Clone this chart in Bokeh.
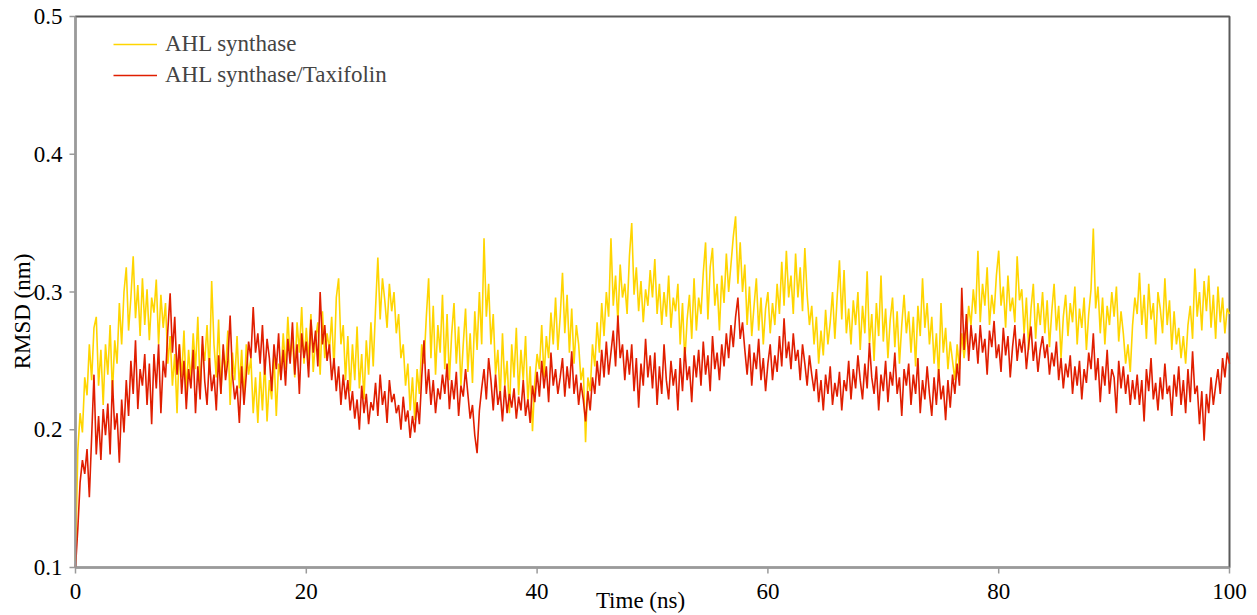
import math
from bokeh.plotting import figure
from bokeh.models import Range1d
from bokeh.core.properties import value
from bokeh.embed import file_html
from bokeh.resources import INLINE

ahl = [
    0.105, 0.185, 0.212, 0.198, 0.238, 0.225, 0.262, 0.236, 0.274, 0.282,
    0.232, 0.258, 0.218, 0.262, 0.240, 0.276, 0.226, 0.265, 0.248, 0.292,
    0.262, 0.300, 0.318, 0.272, 0.296, 0.326, 0.281, 0.305, 0.268, 0.310,
    0.276, 0.302, 0.265, 0.296, 0.285, 0.309, 0.262, 0.298, 0.274, 0.292,
    0.248, 0.268, 0.232, 0.255, 0.212, 0.262, 0.238, 0.272, 0.226, 0.258,
    0.235, 0.270, 0.244, 0.282, 0.228, 0.262, 0.250, 0.276, 0.240, 0.308,
    0.262, 0.238, 0.280, 0.226, 0.258, 0.242, 0.272, 0.218, 0.256, 0.236,
    0.268, 0.230, 0.258, 0.222, 0.262, 0.240, 0.252, 0.212, 0.238, 0.205,
    0.242, 0.214, 0.250, 0.206, 0.236, 0.222, 0.255, 0.210, 0.248, 0.238,
    0.270, 0.244, 0.282, 0.252, 0.266, 0.238, 0.278, 0.256, 0.289, 0.248,
    0.274, 0.250, 0.284, 0.242, 0.266, 0.278, 0.240, 0.286, 0.252, 0.270,
    0.258, 0.282, 0.244, 0.296, 0.310, 0.262, 0.276, 0.236, 0.268, 0.228,
    0.262, 0.236, 0.275, 0.230, 0.255, 0.222, 0.265, 0.240, 0.278, 0.246,
    0.288, 0.325, 0.280, 0.310, 0.294, 0.274, 0.306, 0.286, 0.300, 0.270,
    0.284, 0.252, 0.262, 0.232, 0.248, 0.214, 0.238, 0.207, 0.244, 0.226,
    0.262, 0.248, 0.282, 0.310, 0.252, 0.290, 0.240, 0.276, 0.256, 0.298,
    0.244, 0.284, 0.236, 0.270, 0.292, 0.248, 0.275, 0.232, 0.262, 0.288,
    0.242, 0.270, 0.234, 0.286, 0.258, 0.300, 0.262, 0.339, 0.282, 0.306,
    0.262, 0.284, 0.240, 0.258, 0.222, 0.270, 0.232, 0.250, 0.212, 0.262,
    0.238, 0.274, 0.225, 0.258, 0.236, 0.268, 0.220, 0.246, 0.199, 0.235,
    0.255, 0.244, 0.276, 0.238, 0.268, 0.252, 0.285, 0.262, 0.296, 0.258,
    0.282, 0.314, 0.270, 0.298, 0.256, 0.288, 0.248, 0.276, 0.262, 0.236,
    0.245, 0.191, 0.238, 0.228, 0.262, 0.246, 0.278, 0.256, 0.292, 0.268,
    0.300, 0.282, 0.339, 0.290, 0.312, 0.278, 0.320, 0.296, 0.306, 0.284,
    0.326, 0.350, 0.298, 0.318, 0.286, 0.308, 0.278, 0.302, 0.290, 0.316,
    0.296, 0.324, 0.284, 0.306, 0.276, 0.300, 0.282, 0.312, 0.274, 0.296,
    0.286, 0.306, 0.262, 0.292, 0.250, 0.280, 0.298, 0.266, 0.310, 0.272,
    0.296, 0.284, 0.314, 0.336, 0.280, 0.318, 0.332, 0.290, 0.306, 0.272,
    0.312, 0.292, 0.328, 0.300, 0.320, 0.340, 0.355, 0.306, 0.336, 0.300,
    0.320, 0.276, 0.304, 0.268, 0.290, 0.310, 0.272, 0.296, 0.262, 0.288,
    0.300, 0.270, 0.292, 0.276, 0.306, 0.284, 0.322, 0.290, 0.330, 0.296,
    0.312, 0.284, 0.328, 0.296, 0.318, 0.286, 0.332, 0.298, 0.276, 0.290,
    0.262, 0.282, 0.248, 0.272, 0.254, 0.287, 0.262, 0.278, 0.300, 0.266,
    0.296, 0.323, 0.280, 0.316, 0.270, 0.288, 0.262, 0.294, 0.276, 0.300,
    0.258, 0.290, 0.270, 0.315, 0.262, 0.284, 0.250, 0.292, 0.268, 0.312,
    0.264, 0.288, 0.252, 0.280, 0.296, 0.260, 0.286, 0.248, 0.276, 0.298,
    0.270, 0.286, 0.256, 0.282, 0.246, 0.290, 0.268, 0.310, 0.274, 0.292,
    0.262, 0.282, 0.248, 0.270, 0.238, 0.292, 0.256, 0.274, 0.244, 0.264,
    0.250, 0.236, 0.262, 0.244, 0.270, 0.252, 0.268, 0.290, 0.276, 0.302,
    0.284, 0.330, 0.278, 0.306, 0.290, 0.318, 0.276, 0.298, 0.284, 0.312,
    0.330, 0.290, 0.304, 0.274, 0.312, 0.286, 0.296, 0.278, 0.326, 0.294,
    0.302, 0.270, 0.296, 0.258, 0.288, 0.306, 0.266, 0.292, 0.276, 0.300,
    0.270, 0.294, 0.260, 0.286, 0.306, 0.272, 0.290, 0.252, 0.282, 0.298,
    0.268, 0.292, 0.278, 0.304, 0.262, 0.288, 0.274, 0.296, 0.258, 0.284,
    0.302, 0.346, 0.288, 0.304, 0.270, 0.296, 0.262, 0.290, 0.276, 0.300,
    0.282, 0.304, 0.264, 0.286, 0.270, 0.248, 0.262, 0.242, 0.276, 0.296,
    0.284, 0.314, 0.276, 0.298, 0.266, 0.306, 0.280, 0.292, 0.262, 0.300,
    0.288, 0.270, 0.310, 0.276, 0.294, 0.258, 0.286, 0.262, 0.274, 0.252,
    0.268, 0.248, 0.276, 0.290, 0.266, 0.317, 0.282, 0.300, 0.272, 0.308,
    0.286, 0.312, 0.274, 0.298, 0.266, 0.304, 0.278, 0.296, 0.270, 0.288,
    0.284,
]

ahl_taxifolin = [
    0.100, 0.128, 0.162, 0.178, 0.168, 0.186, 0.151, 0.195, 0.240, 0.182,
    0.210, 0.178, 0.215, 0.196, 0.219, 0.182, 0.236, 0.200, 0.212, 0.176,
    0.222, 0.198, 0.236, 0.210, 0.250, 0.226, 0.265, 0.215, 0.244, 0.232,
    0.255, 0.218, 0.248, 0.204, 0.255, 0.230, 0.262, 0.212, 0.250, 0.238,
    0.272, 0.299, 0.256, 0.282, 0.240, 0.262, 0.226, 0.250, 0.215, 0.244,
    0.230, 0.258, 0.212, 0.246, 0.222, 0.268, 0.235, 0.218, 0.252, 0.228,
    0.240, 0.214, 0.254, 0.226, 0.262, 0.236, 0.250, 0.283, 0.240, 0.222,
    0.232, 0.205, 0.246, 0.218, 0.240, 0.264, 0.252, 0.289, 0.256, 0.270,
    0.248, 0.276, 0.240, 0.266, 0.252, 0.228, 0.262, 0.244, 0.270, 0.236,
    0.258, 0.232, 0.266, 0.248, 0.278, 0.240, 0.262, 0.226, 0.270, 0.252,
    0.264, 0.238, 0.280, 0.256, 0.272, 0.246, 0.300, 0.262, 0.276, 0.250,
    0.262, 0.236, 0.252, 0.228, 0.246, 0.218, 0.240, 0.222, 0.236, 0.214,
    0.228, 0.208, 0.222, 0.200, 0.232, 0.212, 0.226, 0.204, 0.220, 0.214,
    0.234, 0.210, 0.240, 0.218, 0.228, 0.205, 0.236, 0.220, 0.226, 0.212,
    0.218, 0.200, 0.224, 0.206, 0.214, 0.194, 0.210, 0.198, 0.220, 0.204,
    0.238, 0.265, 0.226, 0.244, 0.218, 0.236, 0.212, 0.230, 0.222, 0.240,
    0.226, 0.248, 0.215, 0.236, 0.222, 0.242, 0.210, 0.232, 0.224, 0.244,
    0.226, 0.208, 0.218, 0.196, 0.183, 0.214, 0.230, 0.244, 0.222, 0.252,
    0.236, 0.214, 0.240, 0.218, 0.228, 0.206, 0.232, 0.212, 0.226, 0.216,
    0.230, 0.208, 0.224, 0.214, 0.236, 0.210, 0.222, 0.205, 0.232, 0.220,
    0.242, 0.224, 0.250, 0.230, 0.246, 0.220, 0.256, 0.232, 0.244, 0.226,
    0.238, 0.252, 0.224, 0.246, 0.230, 0.257, 0.226, 0.240, 0.218, 0.234,
    0.222, 0.206, 0.228, 0.214, 0.238, 0.226, 0.250, 0.232, 0.258, 0.238,
    0.264, 0.240, 0.256, 0.272, 0.246, 0.283, 0.252, 0.262, 0.236, 0.258,
    0.240, 0.262, 0.228, 0.252, 0.216, 0.248, 0.232, 0.266, 0.238, 0.254,
    0.230, 0.256, 0.218, 0.246, 0.226, 0.262, 0.236, 0.222, 0.250, 0.232,
    0.244, 0.214, 0.252, 0.228, 0.260, 0.236, 0.246, 0.220, 0.254, 0.238,
    0.258, 0.232, 0.264, 0.240, 0.254, 0.228, 0.268, 0.244, 0.256, 0.236,
    0.262, 0.246, 0.270, 0.252, 0.276, 0.260, 0.282, 0.296, 0.266, 0.278,
    0.258, 0.240, 0.262, 0.232, 0.256, 0.244, 0.266, 0.236, 0.252, 0.228,
    0.248, 0.262, 0.236, 0.254, 0.242, 0.268, 0.246, 0.281, 0.252, 0.264,
    0.244, 0.270, 0.250, 0.258, 0.236, 0.262, 0.248, 0.232, 0.254, 0.240,
    0.228, 0.244, 0.220, 0.236, 0.214, 0.240, 0.226, 0.246, 0.218, 0.234,
    0.224, 0.242, 0.214, 0.236, 0.228, 0.250, 0.222, 0.244, 0.230, 0.254,
    0.236, 0.222, 0.248, 0.230, 0.263, 0.238, 0.226, 0.246, 0.214, 0.240,
    0.228, 0.250, 0.220, 0.242, 0.232, 0.256, 0.226, 0.238, 0.210, 0.244,
    0.232, 0.248, 0.218, 0.240, 0.226, 0.252, 0.212, 0.236, 0.222, 0.246,
    0.226, 0.210, 0.238, 0.218, 0.244, 0.222, 0.232, 0.207, 0.236, 0.216,
    0.240, 0.226, 0.248, 0.232, 0.303, 0.258, 0.284, 0.250, 0.276, 0.258,
    0.270, 0.248, 0.276, 0.256, 0.266, 0.240, 0.272, 0.260, 0.279, 0.252,
    0.262, 0.242, 0.274, 0.254, 0.268, 0.238, 0.260, 0.276, 0.250, 0.266,
    0.256, 0.270, 0.244, 0.262, 0.275, 0.250, 0.264, 0.242, 0.258, 0.268,
    0.252, 0.262, 0.240, 0.256, 0.246, 0.264, 0.236, 0.252, 0.230, 0.248,
    0.238, 0.254, 0.226, 0.246, 0.232, 0.250, 0.222, 0.244, 0.234, 0.256,
    0.244, 0.270, 0.236, 0.252, 0.220, 0.246, 0.232, 0.258, 0.226, 0.244,
    0.238, 0.212, 0.250, 0.230, 0.246, 0.226, 0.240, 0.218, 0.236, 0.222,
    0.240, 0.218, 0.236, 0.206, 0.244, 0.228, 0.252, 0.222, 0.234, 0.214,
    0.238, 0.222, 0.248, 0.226, 0.232, 0.210, 0.240, 0.224, 0.246, 0.218,
    0.236, 0.212, 0.244, 0.220, 0.257, 0.226, 0.232, 0.204, 0.228, 0.192,
    0.226, 0.212, 0.238, 0.218, 0.232, 0.244, 0.226, 0.252, 0.238, 0.256,
    0.248,
]

time_step_ns = 0.2
time_ahl = [i * time_step_ns for i in range(len(ahl))]
time_tax = [i * time_step_ns for i in range(len(ahl_taxifolin))]

x_ticks = [0, 20, 40, 60, 80, 100]
y_ticks = [0.1, 0.2, 0.3, 0.4, 0.5]
x_tick_labels = ["0", "20", "40", "60", "80", "100"]
y_tick_labels = ["0.1", "0.2", "0.3", "0.4", "0.5"]
x_title = "Time (ns)"
y_title = "RMSD (nm)"
series_names = ["AHL synthase", "AHL synthase/Taxifolin"]
series_colors = ["#FFD500", "#E01E00"]

FONT = "'Liberation Serif', 'Times New Roman', serif"

# layout (pixels) -- the plotting frame spans the whole canvas, the axes are drawn inside it
W, H = 1249, 615
FL, FR, FT, FB = 75, 1229, 16, 567
X0, X1 = x_ticks[0], x_ticks[-1]
Y0, Y1 = y_ticks[0], y_ticks[-1]
sx = (FR - FL) / (X1 - X0)
sy = (FB - FT) / (Y1 - Y0)


def xd(px):
    return X0 + (px - FL) / sx


def yd(py):
    return Y0 + (FB - py) / sy


p = figure(width=W, height=H, output_backend="svg", toolbar_location=None,
           x_range=Range1d(xd(0), xd(W)), y_range=Range1d(yd(H), yd(0)),
           x_axis_location=None, y_axis_location=None, min_border=0)
p.background_fill_color = "white"
p.border_fill_color = "white"
p.outline_line_color = None
p.grid.visible = False

# frame: dark top/right border, grey left/bottom axis lines
p.quad(left=[X0], right=[X1], bottom=[Y0], top=[Y1], fill_color=None,
       line_color="#5a5a5a", line_width=2)

# data
p.line(time_ahl, ahl, line_color=series_colors[0], line_width=1.6, legend_label=series_names[0])
p.line(time_tax, ahl_taxifolin, line_color=series_colors[1], line_width=1.6, legend_label=series_names[1])

axis_grey = "#9a9a9a"
p.segment(x0=[X0, X0], y0=[Y0, Y0], x1=[X1, X0], y1=[Y0, Y1], line_color=axis_grey, line_width=2)
tick_px = 6
p.segment(x0=x_ticks, y0=[Y0] * len(x_ticks), x1=x_ticks, y1=[Y0 - tick_px / sy] * len(x_ticks),
          line_color=axis_grey, line_width=1.5)
p.segment(x0=[X0] * len(y_ticks), y0=y_ticks, x1=[X0 - tick_px / sx] * len(y_ticks), y1=y_ticks,
          line_color=axis_grey, line_width=1.5)

# tick labels
p.text(x=x_ticks, y=[yd(FB + 24)] * len(x_ticks), text=x_tick_labels,
       text_align="center", text_baseline="middle",
       text_font=value(FONT), text_font_size="23px", text_color="black")
p.text(x=[xd(FL - 13)] * len(y_ticks), y=y_ticks, text=y_tick_labels,
       text_align="right", text_baseline="middle",
       text_font=value(FONT), text_font_size="23px", text_color="black")

# axis titles
p.text(x=[xd(640)], y=[yd(600)], text=[x_title], text_align="center", text_baseline="middle",
       text_font=value(FONT), text_font_size="23px", text_color="black")
p.text(x=[xd(22)], y=[yd(311)], text=[y_title], angle=math.pi / 2, text_align="center",
       text_baseline="middle", text_font=value(FONT), text_font_size="23px", text_color="black")

leg = p.legend[0]
leg.location = (FL + 38, H - FT - 15 - 57)
leg.margin = 0
leg.padding = 0
leg.spacing = 5
leg.glyph_width = 44
leg.glyph_height = 20
leg.label_height = 20
leg.label_standoff = 8
leg.label_text_font = FONT
leg.label_text_font_size = "23px"
leg.border_line_color = None
leg.background_fill_alpha = 0

open("out.html", "w").write(file_html(p, INLINE))
